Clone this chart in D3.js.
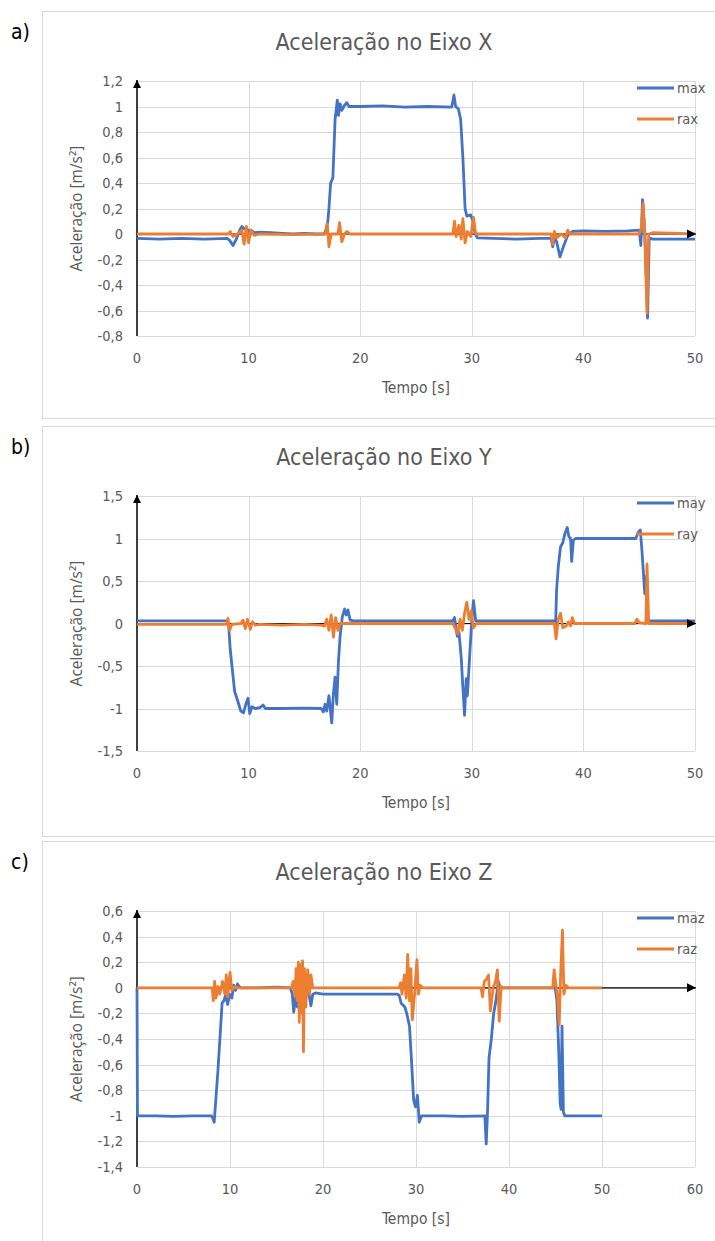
<!DOCTYPE html>
<html>
<head>
<meta charset="utf-8">
<script src="https://cdn.jsdelivr.net/npm/d3@7"></script>
<style>
  body { margin: 0; background: #fff; }
  svg { display: block; }
</style>
</head>
<body>
<svg id="chart" width="715" height="1241"></svg>
<script>
// values, [time s, acceleration m/s²]
const max = [[0,-0.035],[2,-0.04],[4,-0.035],[6,-0.04],[8.1,-0.035],[8.3,-0.05],[8.6,-0.09],[8.9,-0.04],[9.2,0.03],[9.4,0.06],[9.6,0.04],[9.8,0.05],[10,0.02],[10.2,0.03],[10.5,0.01],[11,0.015],[12,0.01],[13,0.005],[14,0],[15,0.005],[16,0],[16.8,0],[16.95,0.04],[17.1,0.1],[17.2,0.2],[17.35,0.4],[17.55,0.44],[17.75,0.9],[17.95,1.05],[18.05,0.93],[18.2,1.02],[18.35,0.97],[18.6,1.01],[18.8,1.03],[19,1],[20,1],[22,1.005],[24,0.995],[26,1],[28.2,0.995],[28.4,1.09],[28.55,1],[28.8,0.98],[29,0.9],[29.2,0.6],[29.4,0.2],[29.55,0.14],[29.9,0.15],[30.1,0.1],[30.3,0],[30.5,-0.03],[32,-0.035],[34,-0.04],[36,-0.035],[37.1,-0.035],[37.25,-0.1],[37.4,-0.03],[37.6,-0.06],[37.9,-0.18],[38.2,-0.1],[38.6,-0.01],[39,0.02],[40,0.025],[42,0.02],[44,0.025],[45,0.03],[45.15,-0.09],[45.3,0.27],[45.5,0.02],[45.75,-0.66],[45.9,-0.03],[46.2,-0.04],[48,-0.04],[50,-0.04]];
const rax = [[0,0],[8.2,0],[8.35,0.02],[8.6,-0.02],[9,0],[9.4,0.03],[9.6,-0.08],[9.8,0.06],[10,-0.07],[10.2,0.03],[10.5,-0.01],[11,0],[14,-0.005],[16.9,0],[17.05,0.08],[17.2,-0.1],[17.4,0],[18,0],[18.15,0.09],[18.35,-0.06],[18.6,0],[18.8,0.02],[19.1,0],[24,0],[28.3,0],[28.45,0.1],[28.6,-0.02],[28.85,0.07],[29.05,-0.04],[29.2,0.12],[29.4,-0.07],[29.6,0.02],[29.9,-0.02],[30.15,0.13],[30.35,0],[32,0],[37.1,0],[37.25,-0.08],[37.4,0.02],[37.6,-0.03],[38,0],[38.4,-0.03],[38.6,0.03],[38.8,0],[45,0],[45.2,0.05],[45.35,0.24],[45.5,0],[45.7,-0.62],[45.85,0],[46.2,0.01],[50,0]];

const may = [[0,0.03],[4,0.03],[8,0.03],[8.2,0],[8.35,-0.3],[8.55,-0.55],[8.75,-0.8],[9,-0.9],[9.3,-1.03],[9.55,-1.05],[9.75,-0.95],[9.95,-0.88],[10.1,-1.06],[10.3,-0.98],[10.6,-1],[11,-0.99],[11.3,-0.96],[11.5,-1],[13,-1],[15,-0.995],[16.5,-1],[16.7,-1.04],[16.85,-0.95],[17,-1.03],[17.2,-0.85],[17.45,-1.17],[17.6,-0.82],[17.75,-0.63],[17.9,-0.95],[18.05,-0.45],[18.2,-0.15],[18.4,0.08],[18.6,0.17],[18.75,0.1],[18.9,0.16],[19.1,0.04],[19.4,0.03],[24,0.03],[28.3,0.03],[28.45,0.07],[28.55,-0.02],[28.7,-0.15],[28.85,-0.1],[29.05,-0.4],[29.2,-0.75],[29.35,-1.08],[29.5,-0.65],[29.6,-0.85],[29.8,-0.4],[30,0.05],[30.15,0.27],[30.35,0.03],[32,0.03],[37.4,0.03],[37.5,-0.05],[37.6,0.4],[37.75,0.67],[37.95,0.9],[38.15,0.95],[38.35,1.06],[38.55,1.13],[38.7,1.02],[38.85,1],[38.95,0.73],[39.1,0.98],[39.3,1],[42,1],[44.7,1],[44.9,1.07],[45.1,1.1],[45.25,0.85],[45.4,0.55],[45.5,0.35],[45.6,0.55],[45.8,0.03],[47,0.03],[50,0.03]];
const ray = [[0,-0.01],[8,-0.01],[8.15,0.06],[8.3,-0.08],[8.5,-0.01],[9.3,0],[9.5,0.04],[9.7,-0.06],[9.9,0.05],[10.15,-0.07],[10.35,0.02],[10.6,-0.02],[11,-0.01],[13,-0.02],[15,-0.01],[16.5,-0.02],[16.8,-0.03],[17,0.05],[17.2,-0.08],[17.4,0.1],[17.6,-0.16],[17.8,0.07],[18,-0.08],[18.2,0],[20,0],[28.3,0],[28.5,-0.05],[28.75,-0.12],[28.95,0.05],[29.15,-0.08],[29.35,0.12],[29.55,0.25],[29.75,0.05],[29.95,0.15],[30.15,-0.05],[30.4,0],[37.4,0],[37.55,-0.18],[37.75,0.05],[37.95,0.12],[38.15,-0.05],[38.45,-0.03],[38.65,0.02],[38.85,-0.03],[39,0.07],[39.2,0],[44.6,0],[44.8,0.05],[45,0.01],[45.6,0],[45.7,0.7],[45.85,0],[50,0]];

const maz = [[0,0],[0.05,-1],[2,-1],[4,-1.005],[6,-1],[8,-1],[8.15,-1.02],[8.3,-1.05],[8.45,-0.9],[8.7,-0.65],[9,-0.3],[9.15,-0.12],[9.35,-0.1],[9.55,-0.05],[9.75,-0.13],[9.95,-0.05],[10.2,-0.08],[10.4,0.02],[10.6,-0.02],[10.8,0.03],[11.1,0],[13,0],[15,0.005],[16.5,0],[16.7,-0.05],[16.85,-0.19],[17.05,-0.08],[17.25,-0.15],[17.5,-0.05],[17.9,-0.1],[18.2,-0.03],[18.5,-0.05],[18.7,-0.14],[18.9,-0.05],[19.2,-0.04],[20,-0.05],[24,-0.05],[28,-0.05],[28.2,-0.06],[28.4,-0.12],[28.8,-0.15],[29,-0.2],[29.3,-0.3],[29.5,-0.55],[29.75,-0.88],[29.95,-0.93],[30.15,-0.84],[30.35,-1.05],[30.6,-1],[33,-1],[35,-1.005],[37.4,-1],[37.55,-1.22],[37.7,-0.95],[37.85,-0.55],[38.1,-0.4],[38.35,-0.2],[38.6,-0.1],[38.85,0.05],[39.05,0],[42,0],[44.8,0],[44.95,0.01],[45.15,-0.1],[45.35,-0.5],[45.5,-0.9],[45.6,-0.95],[45.7,-0.3],[45.85,-0.97],[46,-1],[48,-1],[50,-1]];
const raz = [[0,0],[8.1,0],[8.2,-0.1],[8.35,0.05],[8.5,-0.08],[8.7,0.01],[8.9,-0.05],[9.2,0.05],[9.45,-0.05],[9.6,0.1],[9.75,-0.07],[10,0.12],[10.2,-0.02],[10.5,0.01],[10.8,0],[16.6,0],[16.8,0.05],[17,-0.06],[17.1,0.15],[17.2,-0.1],[17.35,0.2],[17.45,-0.27],[17.6,0.18],[17.7,-0.2],[17.8,0.21],[17.9,-0.5],[18,0.15],[18.15,-0.15],[18.35,0.14],[18.55,-0.05],[18.7,0.1],[18.9,0],[22,0],[28.2,0],[28.35,0.04],[28.5,-0.05],[28.75,0.1],[28.95,-0.08],[29.1,0.26],[29.3,-0.1],[29.45,0.15],[29.6,-0.25],[29.85,-0.05],[30.1,0.22],[30.25,-0.05],[30.45,0.02],[30.7,0],[37,0],[37.15,-0.07],[37.35,0.05],[37.6,0.07],[37.8,0.1],[38,-0.18],[38.3,0],[38.55,0.05],[38.75,0.14],[38.95,-0.26],[39.15,0.01],[39.4,0],[44.7,0],[44.85,0.14],[45.05,0.02],[45.2,-0.05],[45.4,-0.29],[45.55,0.1],[45.75,0.45],[45.9,-0.05],[46.1,0.02],[46.4,0],[50,0]];

const yTicksX = [-0.8,-0.6,-0.4,-0.2,0,0.2,0.4,0.6,0.8,1,1.2];
const yTicksY = [-1.5,-1,-0.5,0,0.5,1,1.5];
const yTicksZ = [-1.4,-1.2,-1,-0.8,-0.6,-0.4,-0.2,0,0.2,0.4,0.6];
const xTicksAB = [0,10,20,30,40,50];
const xTicksC = [0,10,20,30,40,50,60];

const panels = [
  {tag: "a)", title: "Aceleração no Eixo X", box: [11, 418], top: 81, bottom: 336,
   yTicks: yTicksX, xTicks: xTicksAB, m: max, r: rax, names: ["max", "rax"]},
  {tag: "b)", title: "Aceleração no Eixo Y", box: [426, 836], top: 496, bottom: 751,
   yTicks: yTicksY, xTicks: xTicksAB, m: may, r: ray, names: ["may", "ray"]},
  {tag: "c)", title: "Aceleração no Eixo Z", box: [841, 1260], top: 911, bottom: 1167,
   yTicks: yTicksZ, xTicks: xTicksC, m: maz, r: raz, names: ["maz", "raz"]}
];

const blue = "#4472c4", orange = "#ed7d31", grey = "#595959";
const narrow = "'Liberation Sans Narrow', 'DejaVu Sans Condensed', sans-serif";
const left = 137, right = 695;

const fmt = d3.formatLocale({decimal: ",", thousands: ".", grouping: [3], currency: ["", ""], minus: "-"}).format("");

const svg = d3.select("#chart");

svg.append("defs").append("marker")
    .attr("id", "arrow")
    .attr("viewBox", "0 0 10 10")
    .attr("refX", 10).attr("refY", 5)
    .attr("markerWidth", 8).attr("markerHeight", 8)
    .attr("markerUnits", "userSpaceOnUse")
    .attr("orient", "auto")
  .append("path")
    .attr("d", "M0,0L10,5L0,10z")
    .attr("fill", "#000");

panels.forEach(p => {
  const g = svg.append("g");

  // panel frame
  g.append("rect")
      .attr("x", 42.5).attr("y", p.box[0] + 0.5)
      .attr("width", 760).attr("height", p.box[1] - p.box[0])
      .attr("fill", "none").attr("stroke", "#d9d9d9");

  g.append("text")
      .attr("x", 11).attr("y", p.box[0] + 28)
      .attr("font-family", narrow).attr("font-size", 21)
      .text(p.tag);

  const x = d3.scaleLinear().domain(d3.extent(p.xTicks)).range([left, right]);
  const y = d3.scaleLinear().domain(d3.extent(p.yTicks)).range([p.bottom, p.top]);

  // grid
  g.append("g").selectAll("line").data(p.yTicks).join("line")
      .attr("x1", left).attr("x2", right)
      .attr("y1", d => Math.round(y(d)) + 0.5).attr("y2", d => Math.round(y(d)) + 0.5)
      .attr("stroke", "#d9d9d9");
  g.append("g").selectAll("line").data(p.xTicks.slice(1)).join("line")
      .attr("x1", d => Math.round(x(d)) + 0.5).attr("x2", d => Math.round(x(d)) + 0.5)
      .attr("y1", p.top).attr("y2", p.bottom)
      .attr("stroke", "#d9d9d9");

  // tick labels
  g.append("g").selectAll("text").data(p.yTicks).join("text")
      .attr("x", 123).attr("y", d => y(d) + 5)
      .attr("text-anchor", "end")
      .attr("font-family", narrow).attr("font-size", 14.5).attr("fill", grey)
      .text(d => fmt(d));
  g.append("g").selectAll("text").data(p.xTicks).join("text")
      .attr("x", d => x(d)).attr("y", p.bottom + 27)
      .attr("text-anchor", "middle")
      .attr("font-family", narrow).attr("font-size", 14.5).attr("fill", grey)
      .text(d => d);

  // axis titles
  g.append("text")
      .attr("x", 384).attr("y", p.top - 31)
      .attr("text-anchor", "middle")
      .attr("font-family", narrow).attr("font-size", 23).attr("fill", grey)
      .text(p.title);
  g.append("text")
      .attr("x", (left + right) / 2).attr("y", p.bottom + 57)
      .attr("text-anchor", "middle")
      .attr("font-family", narrow).attr("font-size", 15.5).attr("fill", grey)
      .text("Tempo [s]");
  g.append("text")
      .attr("transform", `translate(82,${(p.top + p.bottom) / 2}) rotate(-90)`)
      .attr("text-anchor", "middle")
      .attr("font-family", "'Open Sans', sans-serif").attr("font-size", 15.5).attr("fill", grey)
      .text("Aceleração [m/s²]");

  // axes lines
  g.append("line")
      .attr("x1", left).attr("x2", left)
      .attr("y1", p.bottom).attr("y2", p.top - 1)
      .attr("stroke", "#000").attr("stroke-width", 1.5)
      .attr("marker-end", "url(#arrow)");
  g.append("line")
      .attr("x1", left).attr("x2", right + 1)
      .attr("y1", y(0)).attr("y2", y(0))
      .attr("stroke", "#000").attr("stroke-width", 1.2);

  const line = d3.line().x(d => x(d[0])).y(d => y(d[1]));
  g.append("path").datum(p.m)
      .attr("d", line).attr("fill", "none")
      .attr("stroke", blue).attr("stroke-width", 2.8).attr("stroke-linejoin", "round");
  g.append("path").datum(p.r)
      .attr("d", line).attr("fill", "none")
      .attr("stroke", orange).attr("stroke-width", 2.8).attr("stroke-linejoin", "round");

  // arrowhead of x axis on top
  g.append("path")
      .attr("d", `M${right + 1},${y(0)}l-9,-4.5v9z`)
      .attr("fill", "#000");

  // legend
  [blue, orange].forEach((c, i) => {
    const ly = p.top + 7 + i * 31;
    g.append("line")
        .attr("x1", 637).attr("x2", 674).attr("y1", ly).attr("y2", ly)
        .attr("stroke", c).attr("stroke-width", 2.8);
    g.append("text")
        .attr("x", 677).attr("y", ly + 5)
        .attr("font-family", narrow).attr("font-size", 14.5).attr("fill", grey)
        .text(p.names[i]);
  });
});
</script>
</body>
</html>
